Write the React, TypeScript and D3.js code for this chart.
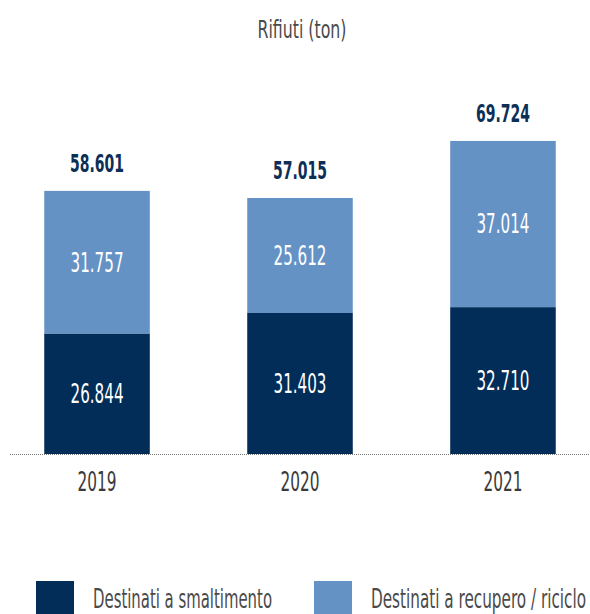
import React from 'react';
import * as d3 from 'd3';

const years = ['2019', '2020', '2021'];
const smaltimento = [26.844, 31.403, 32.71];
const recupero = [31.757, 25.612, 37.014];
const totals = [58.601, 57.015, 69.724];
const seriesNames = ['Destinati a smaltimento', 'Destinati a recupero / riciclo'];

const WIDTH = 590;
const HEIGHT = 614;
const DARK = '#022d58';
const LIGHT = '#6592c5';
const FONT = '"DejaVu Sans Condensed", "DejaVu Sans", sans-serif';

const fmt = (v: number) => v.toFixed(3);

// the original uses a condensed geometric face; squeeze glyphs to its widths
const squeeze = (w: number) => ({ textLength: w, lengthAdjust: 'spacingAndGlyphs' as const });

export default function App() {
  const x = d3.scaleBand<string>()
    .domain(years)
    .range([0, 600])
    .paddingInner(0.48)
    .paddingOuter(0.218);

  const y = d3.scaleLinear()
    .domain([0, 100])
    .range([454, 5]);

  const rows = years.map((year, i) => ({
    year,
    values: [smaltimento[i], recupero[i]],
    total: totals[i],
  }));

  const stack = d3.stack<any>()
    .keys(['0', '1'])
    .value((d, key) => d.values[+key]);
  const layers = stack(rows);
  const colors = [DARK, LIGHT];

  return (
    <svg
      width={WIDTH}
      height={HEIGHT}
      style={{ position: 'absolute', left: 0, top: 0, fontFamily: FONT, fontStretch: 'condensed' }}
    >
      <rect width={WIDTH} height={HEIGHT} fill="#fff" />
      <text x={302} y={38} textAnchor="middle" fontSize={25} fill="#4a4a4a" {...squeeze(89)}>
        Rifiuti (ton)
      </text>

      {layers.map((layer, li) => (
        <g key={li}>
          {layer.map((d) => {
            const x0 = x(d.data.year) as number;
            const top = y(d[1]);
            const bottom = y(d[0]);
            return (
              <g key={d.data.year}>
                <rect
                  x={x0}
                  y={top}
                  width={x.bandwidth()}
                  height={bottom - top}
                  fill={colors[li]}
                />
                <text
                  x={x0 + x.bandwidth() / 2}
                  y={(top + bottom) / 2}
                  dy="0.36em"
                  textAnchor="middle"
                  fontSize={26}
                  fill="#fff"
                  {...squeeze(53)}
                >
                  {fmt(d[1] - d[0])}
                </text>
              </g>
            );
          })}
        </g>
      ))}

      {rows.map((r) => (
        <text
          key={r.year}
          x={(x(r.year) as number) + x.bandwidth() / 2}
          y={y(r.total) - 19}
          textAnchor="middle"
          fontSize={25}
          fontWeight="bold"
          fill="#0d2f55"
          {...squeeze(54)}
        >
          {fmt(r.total)}
        </text>
      ))}

      <line
        x1={10}
        x2={WIDTH}
        y1={y(0) + 0.5}
        y2={y(0) + 0.5}
        stroke="#777"
        strokeWidth={1}
        strokeDasharray="1,1"
      />

      {rows.map((r) => (
        <text
          key={r.year}
          x={(x(r.year) as number) + x.bandwidth() / 2}
          y={491}
          textAnchor="middle"
          fontSize={26}
          fill="#3a3a3a"
          {...squeeze(39)}
        >
          {r.year}
        </text>
      ))}

      {seriesNames.map((name, i) => {
        const lx = [36, 314][i];
        return (
          <g key={name}>
            <rect x={lx} y={581} width={38} height={40} fill={colors[i]} />
            <text x={lx + 57} y={608} fontSize={27} fill="#4a4a4a" {...squeeze([179, 215][i])}>
              {name}
            </text>
          </g>
        );
      })}
    </svg>
  );
}
